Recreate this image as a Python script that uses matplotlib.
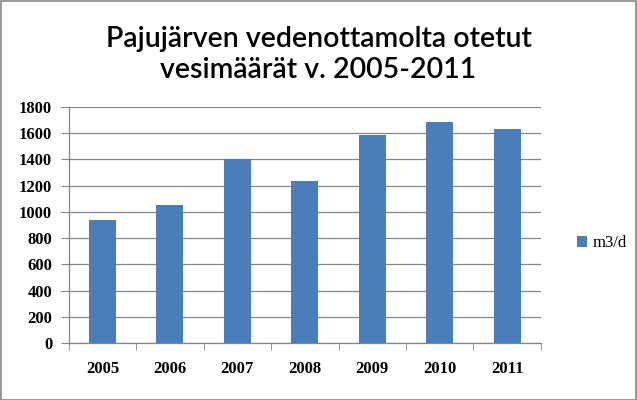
import matplotlib
matplotlib.use("Agg")
import matplotlib.pyplot as plt
from matplotlib.patches import Rectangle

years = ["2005", "2006", "2007", "2008", "2009", "2010", "2011"]
m3_per_day = [938, 1053, 1401, 1236, 1587, 1686, 1632]
y_ticks = [0, 200, 400, 600, 800, 1000, 1200, 1400, 1600, 1800]

bar_color = "#4A7EBB"
grid_color = "#868686"

fig = plt.figure(figsize=(6.37, 4.0), dpi=100)
ax = fig.add_axes([0.108, 0.1425, 0.741, 0.59])

x = range(len(years))
ax.bar(x, m3_per_day, width=0.4, color=bar_color, label="m3/d", zorder=3)

ax.set_xlim(-0.5, len(years) - 0.5)
ax.set_ylim(0, 1800)
ax.set_yticks(y_ticks)
ax.set_xticks(x)
ax.set_xticklabels(years)

# rajaviivat kategorioiden väliin
ax.set_xticks([i - 0.5 for i in range(len(years) + 1)], minor=True)
ax.tick_params(axis="x", which="major", length=0, pad=13)
ax.tick_params(axis="x", which="minor", length=5, color=grid_color, direction="out")
ax.tick_params(axis="y", length=6, color=grid_color, direction="out", pad=6)

for lab in ax.get_xticklabels() + ax.get_yticklabels():
    lab.set_fontfamily("Liberation Serif")
    lab.set_fontweight("bold")
    lab.set_fontsize(12)

ax.grid(axis="y", color=grid_color, linewidth=0.9, zorder=0)
for side in ["top", "right"]:
    ax.spines[side].set_visible(False)
for side in ["left", "bottom"]:
    ax.spines[side].set_color(grid_color)
    ax.spines[side].set_linewidth(0.9)

fig.text(0.5, 0.863, "Pajujärven vedenottamolta otetut\nvesimäärät v. 2005-2011",
         ha="center", va="center", fontsize=20.5, family="Lato",
         fontweight="semibold", linespacing=1.22)

leg = fig.legend(loc="center left", bbox_to_anchor=(0.882, 0.392), frameon=False,
                 handlelength=0.6, handleheight=0.6, handletextpad=0.35,
                 prop={"family": "Liberation Serif", "size": 12})

fig.patches.append(Rectangle((0.001, 0.001), 0.997, 0.997, transform=fig.transFigure,
                             fill=False, edgecolor="#888888", linewidth=1.2))

fig.savefig("out.png", dpi=100)
